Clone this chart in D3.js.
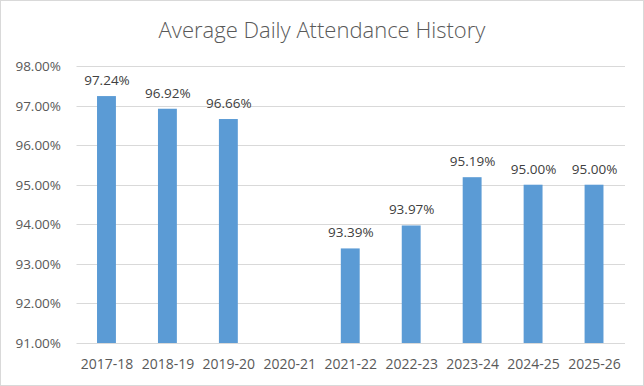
<!DOCTYPE html>
<html>
<head>
<meta charset="utf-8">
<script src="https://cdn.jsdelivr.net/npm/d3@7"></script>
<style>
  body { margin: 0; background: #fff; }
  svg { display: block; font-family: "Open Sans", "Noto Sans", sans-serif; }
</style>
</head>
<body>
<div id="chart"></div>
<script>
// Datos del gráfico: años escolares y asistencia media (%). 2020-21 sin dato.
const years = ["2017-18", "2018-19", "2019-20", "2020-21", "2021-22", "2022-23", "2023-24", "2024-25", "2025-26"];
const attendance = [97.24, 96.92, 96.66, null, 93.39, 93.97, 95.19, 95.00, 95.00];
const yTicks = [91, 92, 93, 94, 95, 96, 97, 98];
const title = "Average Daily Attendance History";

// Dimensiones
const width = 644;
const height = 386;
const marginTop = 66;
const marginBottom = 43;
const marginLeft = 76.5;
const marginRight = 19;

const svg = d3.select("#chart").append("svg")
  .attr("width", width)
  .attr("height", height);

// Borde del área del gráfico
svg.append("rect")
  .attr("x", 0.5).attr("y", 0.5)
  .attr("width", width - 1).attr("height", height - 1)
  .attr("fill", "#fff")
  .attr("stroke", "#d9d9d9");

// Escalas
const x = d3.scaleBand(years, [marginLeft, width - marginRight])
  .paddingInner(0.69)
  .paddingOuter(0.345);

const y = d3.scaleLinear([91, 98], [height - marginBottom, marginTop]);

const pct = d => d3.format(".2f")(d) + "%";

// Título
svg.append("text")
  .attr("x", 322)
  .attr("y", 38)
  .attr("text-anchor", "middle")
  .attr("font-size", 22)
  .attr("font-weight", 300)
  .attr("fill", "#595959")
  .text(title);

// Líneas de cuadrícula + etiquetas del eje Y
const grid = svg.append("g")
  .selectAll("g")
  .data(yTicks)
  .join("g")
  .attr("transform", d => `translate(0,${Math.round(y(d)) + 0.5})`);

grid.append("line")
  .attr("x1", marginLeft)
  .attr("x2", width - marginRight)
  .attr("stroke", "#d9d9d9");

grid.append("text")
  .attr("x", 61)
  .attr("dy", ".35em")
  .attr("text-anchor", "end")
  .attr("font-size", 13.5)
  .attr("fill", "#595959")
  .text(pct);

// Barras (solo los años con dato)
const data = years.map((yr, i) => ({ year: yr, value: attendance[i] }))
  .filter(d => d.value != null);

svg.append("g")
  .attr("fill", "#5b9bd5")
  .selectAll("rect")
  .data(data)
  .join("rect")
  .attr("x", d => x(d.year) - 0.5)
  .attr("y", d => y(d.value))
  .attr("width", x.bandwidth())
  .attr("height", d => y(91) - y(d.value));

// Etiquetas de valor encima de cada barra
svg.append("g")
  .attr("font-size", 13.5)
  .attr("fill", "#404040")
  .attr("text-anchor", "middle")
  .selectAll("text")
  .data(data)
  .join("text")
  .attr("x", d => x(d.year) + x.bandwidth() / 2)
  .attr("y", d => y(d.value) - 11)
  .text(d => pct(d.value));

// Etiquetas del eje X
svg.append("g")
  .attr("font-size", 14)
  .attr("fill", "#595959")
  .attr("text-anchor", "middle")
  .selectAll("text")
  .data(years)
  .join("text")
  .attr("x", d => x(d) + x.bandwidth() / 2)
  .attr("y", 369)
  .text(d => d);
</script>
</body>
</html>
